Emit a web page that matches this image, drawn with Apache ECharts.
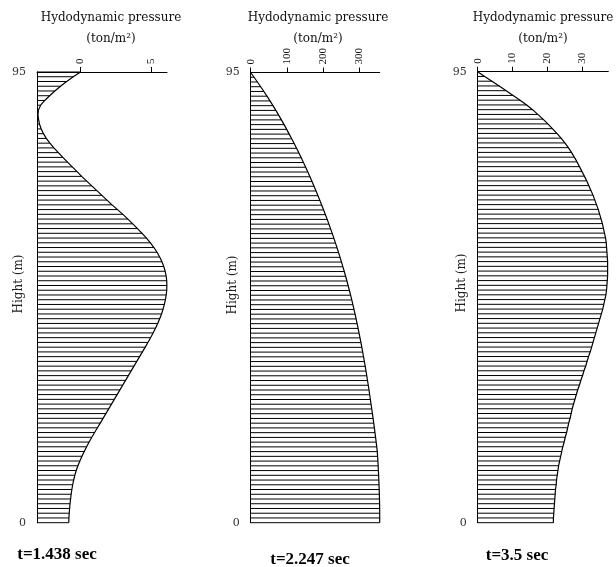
<!DOCTYPE html>
<html>
<head>
<meta charset="utf-8">
<script src="https://cdn.jsdelivr.net/npm/echarts@6/dist/echarts.min.js"></script>
<style>
  html, body { margin: 0; padding: 0; background: #fff; }
  #chart { width: 616px; height: 567px; }
</style>
</head>
<body>
<div id="chart"></div>
<script>
// heights 0..95 m, one hatch line per metre
const heights = [];
for (let h = 0; h <= 95; h++) heights.push(h);

// pressure, index = height (m)
const pressureT1 = [
  -0.84, -0.83, -0.81, -0.78, -0.75, -0.71, -0.67, -0.62, -0.56, -0.49,
  -0.41, -0.31, -0.19, -0.05, 0.10, 0.26, 0.43, 0.61, 0.80, 1.00,
  1.20, 1.40, 1.60, 1.80, 2.00, 2.20, 2.40, 2.60, 2.80, 3.00,
  3.20, 3.40, 3.60, 3.80, 4.00, 4.20, 4.40, 4.60, 4.79, 4.98,
  5.16, 5.33, 5.49, 5.63, 5.76, 5.87, 5.96, 6.04, 6.09, 6.13,
  6.14, 6.13, 6.09, 6.02, 5.92, 5.79, 5.63, 5.44, 5.22, 4.97,
  4.69, 4.38, 4.05, 3.71, 3.37, 3.01, 2.63, 2.24, 1.88, 1.52,
  1.16, 0.80, 0.44, 0.08, -0.25, -0.59, -0.93, -1.26, -1.58, -1.90,
  -2.18, -2.44, -2.64, -2.80, -2.92, -2.99, -3.03, -3.00, -2.84, -2.55,
  -2.20, -1.83, -1.43, -0.99, -0.52, 0.00
];
const pressureT2 = [
  357.0, 357.0, 357.0, 356.9, 356.7, 356.4, 356.0, 355.6, 355.1, 354.6,
  354.0, 353.4, 352.7, 352.0, 351.2, 350.3, 348.8, 347.2, 345.6, 343.9,
  342.2, 340.5, 338.7, 336.9, 335.0, 333.1, 331.2, 329.3, 327.4, 325.4,
  323.3, 321.2, 319.1, 316.9, 314.6, 312.3, 310.0, 307.6, 305.1, 302.5,
  299.9, 297.2, 294.5, 291.7, 288.8, 285.8, 282.8, 279.7, 276.5, 273.2,
  269.8, 266.3, 262.7, 259.0, 255.2, 251.3, 247.3, 243.2, 239.0, 234.7,
  230.3, 225.8, 221.2, 216.5, 211.7, 206.8, 201.8, 196.7, 191.5, 186.2,
  180.8, 175.3, 169.7, 164.0, 158.1, 152.1, 146.0, 139.8, 133.4, 126.9,
  120.3, 113.5, 106.6, 99.6, 92.4, 85.0, 77.4, 69.6, 61.6, 53.4,
  45.0, 36.4, 27.6, 18.6, 9.4, 0.0
];
const pressureT3 = [
  21.8, 21.8, 21.9, 22.0, 22.1, 22.2, 22.3, 22.4, 22.6, 22.7,
  22.9, 23.1, 23.3, 23.6, 23.9, 24.2, 24.5, 24.9, 25.2, 25.6,
  25.9, 26.2, 26.6, 26.9, 27.2, 27.6, 28.0, 28.4, 28.8, 29.3,
  29.7, 30.2, 30.6, 31.1, 31.5, 31.9, 32.4, 32.8, 33.2, 33.6,
  34.0, 34.4, 34.8, 35.2, 35.6, 36.0, 36.3, 36.6, 36.9, 37.1,
  37.2, 37.3, 37.4, 37.4, 37.4, 37.4, 37.3, 37.2, 37.1, 37.0,
  36.8, 36.5, 36.2, 35.9, 35.5, 35.1, 34.7, 34.2, 33.7, 33.2,
  32.6, 32.0, 31.4, 30.7, 30.0, 29.3, 28.6, 27.8, 27.0, 26.1,
  25.1, 24.0, 22.8, 21.5, 20.2, 18.8, 17.3, 15.8, 14.1, 12.2,
  10.2, 8.2, 6.2, 4.1, 2.0, 0.0
];

const panelTicks = [[0, 5], [0, 100, 200, 300], [0, 10, 20, 30]];
const panelRange = [[-3.1, 6.15], [0, 357], [0, 37.6]];
const timeLabels = ['t=1.438 sec', 't=2.247 sec', 't=3.5 sec'];
const heightLabels = [0, 95];

const panels = [
  { data: pressureT1, grid: { left: 37, top: 72, width: 130, height: 450.7 } },
  { data: pressureT2, grid: { left: 250.7, top: 72.5, width: 129, height: 450.2 } },
  { data: pressureT3, grid: { left: 477.7, top: 71.7, width: 130.6, height: 451 } }
];

const black = '#000';
const serif = '"DejaVu Serif", serif';

let option = {
  animation: false,
  backgroundColor: '#fff',
  grid: [],
  xAxis: [],
  yAxis: [],
  series: [],
  graphic: []
};

panels.forEach(function (p, i) {
  option.grid.push(p.grid);
  option.xAxis.push({
    gridIndex: i,
    type: 'value',
    position: 'top',
    min: panelRange[i][0],
    max: panelRange[i][1],
    axisLine: { show: true, onZero: false, lineStyle: { color: black, width: 1 } },
    axisTick: { show: true, customValues: panelTicks[i], length: 5, lineStyle: { color: black } },
    axisLabel: {
      customValues: panelTicks[i],
      rotate: -90,
      margin: 8,
      color: '#111',
      fontFamily: '"Liberation Serif", serif',
      fontSize: 11
    },
    splitLine: { show: false }
  });
  option.yAxis.push({
    gridIndex: i,
    type: 'value',
    min: 0,
    max: 95,
    axisLine: { show: true, onZero: false, lineStyle: { color: black, width: 1 } },
    axisTick: { show: false },
    axisLabel: {
      customValues: heightLabels,
      margin: 11,
      color: '#333',
      fontFamily: serif,
      fontSize: 11
    },
    splitLine: { show: false }
  });

  const pts = p.data.map(function (v, k) { return [v, heights[k]]; });
  const xMin = panelRange[i][0];

  // hatch: a horizontal line from the left axis to the curve at each metre
  option.series.push({
    type: 'custom',
    xAxisIndex: i,
    yAxisIndex: i,
    data: pts,
    renderItem: function (params, api) {
      const h = api.value(1);
      const a = api.coord([xMin, h]);
      const b = api.coord([api.value(0), h]);
      return {
        type: 'line',
        shape: { x1: a[0], y1: a[1], x2: b[0], y2: b[1] },
        style: { stroke: black, lineWidth: 1 }
      };
    }
  });
  // outline of the pressure curve
  option.series.push({
    type: 'line',
    xAxisIndex: i,
    yAxisIndex: i,
    data: pts,
    symbol: 'none',
    lineStyle: { color: black, width: 1.2 }
  });
});

const titleX = [111, 318, 543];
const hightPos = [[19, 284], [233, 285], [462, 283]];
const timePos = [[57, 555], [310, 560], [517, 556]];

titleX.forEach(function (x, i) {
  option.graphic.push({
    type: 'text', x: x, y: 18,
    style: { text: 'Hydodynamic pressure', font: '12px ' + serif, fill: '#111', align: 'center', verticalAlign: 'middle' }
  });
  option.graphic.push({
    type: 'text', x: x, y: 39,
    style: { text: '(ton/m²)', font: '12px ' + serif, fill: '#111', align: 'center', verticalAlign: 'middle' }
  });
  option.graphic.push({
    type: 'text', x: hightPos[i][0], y: hightPos[i][1], rotation: Math.PI / 2,
    style: { text: 'Hight (m)', font: '12px ' + serif, fill: '#222', align: 'center', verticalAlign: 'middle' }
  });
  option.graphic.push({
    type: 'text', x: timePos[i][0], y: timePos[i][1],
    style: { text: timeLabels[i], font: 'bold 17px "Liberation Serif", serif', fill: '#000', align: 'center', verticalAlign: 'middle' }
  });
});

const chart = echarts.init(document.getElementById('chart'));
chart.setOption(option, true);
window.addEventListener('resize', function () { chart.resize(); });
</script>
</body>
</html>
